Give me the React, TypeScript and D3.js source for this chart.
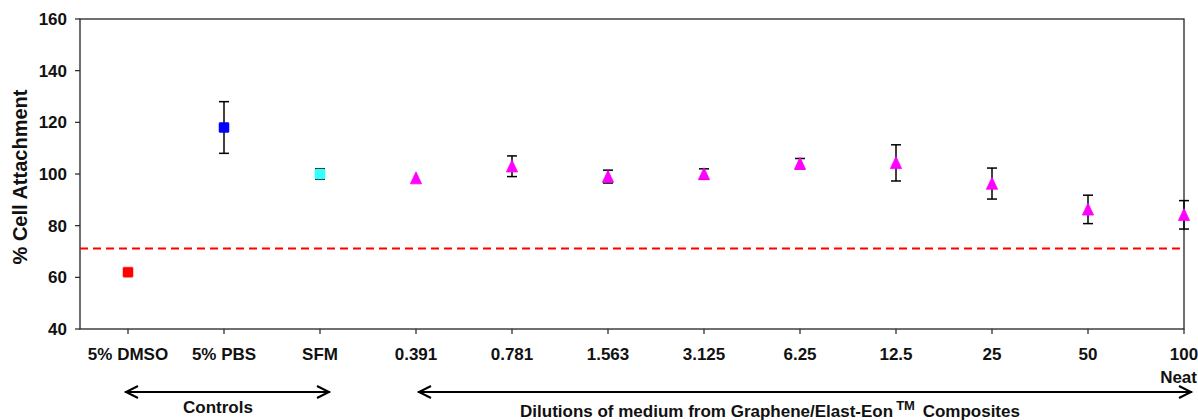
import React from 'react';
import * as d3 from 'd3';

// categories along the x axis
const categories = ['5% DMSO', '5% PBS', 'SFM', '0.391', '0.781', '1.563', '3.125', '6.25', '12.5', '25', '50', '100'];
// mean % cell attachment per category
const values = [62, 118, 100, 98.4, 103, 99, 100, 104, 104.3, 96.3, 86.3, 84.2];
// error bar half-width
const errors = [0, 10, 2, 0, 4, 2.5, 2, 2, 7, 6, 5.5, 5.5];
// marker kinds / colours
const markers = ['square', 'square', 'square', 'tri', 'tri', 'tri', 'tri', 'tri', 'tri', 'tri', 'tri', 'tri'];
const colors = ['#ff0000', '#0000ff', '#33ffff', '#ff00ff', '#ff00ff', '#ff00ff', '#ff00ff', '#ff00ff', '#ff00ff', '#ff00ff', '#ff00ff', '#ff00ff'];
const yTicks = [40, 60, 80, 100, 120, 140, 160];
const threshold = 71.2;

const W = 1198, H = 420;
const plot = { left: 80, right: 1184, top: 19, bottom: 329 };
const font = '"Liberation Sans", Arial, sans-serif';
const fs = 17;

export default function App() {
  const step = (plot.right - plot.left) / (categories.length - 0.5);
  const x = d3.scalePoint<string>().domain(categories).range([plot.left + step / 2, plot.right]);
  const y = d3.scaleLinear().domain([40, 160]).range([plot.bottom, plot.top]);

  const controls = categories.slice(0, 3);
  const dilutions = categories.slice(3);
  const arrowY = 392;

  const arrow = (x1: number, x2: number) => (
    <g stroke="#000" strokeWidth={2} fill="none">
      <line x1={x1} x2={x2} y1={arrowY} y2={arrowY} />
      <path d={`M${x1 + 13},${arrowY - 6}L${x1 + 1},${arrowY}L${x1 + 13},${arrowY + 6}`} />
      <path d={`M${x2 - 13},${arrowY - 6}L${x2 - 1},${arrowY}L${x2 - 13},${arrowY + 6}`} />
    </g>
  );

  return (
    <svg width={W} height={H} style={{ position: 'absolute', left: 0, top: 0, background: '#fff' }}
      fontFamily={font} fontWeight="bold">
      {/* frame */}
      <rect x={plot.left} y={plot.top} width={plot.right - plot.left} height={plot.bottom - plot.top}
        fill="none" stroke="#222" strokeWidth={1.3} />

      {/* y axis */}
      {yTicks.map(t => (
        <g key={t}>
          <line x1={plot.left - 5} x2={plot.left} y1={y(t)} y2={y(t)} stroke="#222" strokeWidth={1.2} />
          <text x={plot.left - 13} y={y(t)} dy="0.36em" textAnchor="end" fontSize={fs} fill="#111">{t}</text>
        </g>
      ))}
      <text transform={`translate(27,${(plot.top + plot.bottom) / 2 + 3}) rotate(-90)`} textAnchor="middle"
        fontSize={20} fill="#111">% Cell Attachment</text>

      {/* x axis */}
      {categories.map(c => (
        <g key={c}>
          <line x1={x(c)!} x2={x(c)!} y1={plot.bottom} y2={plot.bottom + 5} stroke="#222" strokeWidth={1.2} />
          <text x={x(c)!} y={360} textAnchor="middle" fontSize={fs} fill="#111">{c}</text>
        </g>
      ))}
      <text x={W - 1} y={383} textAnchor="end" fontSize={fs} fill="#111">Neat</text>

      {/* threshold */}
      <line x1={plot.left} x2={plot.right} y1={y(threshold)} y2={y(threshold)}
        stroke="#ff0000" strokeWidth={2} strokeDasharray="8,5" />

      {/* error bars */}
      {categories.map((c, i) => errors[i] > 0 && (
        <g key={'e' + c} stroke="#000" strokeWidth={1.5}>
          <line x1={x(c)!} x2={x(c)!} y1={y(values[i] + errors[i])} y2={y(values[i] - errors[i])} />
          <line x1={x(c)! - 5} x2={x(c)! + 5} y1={y(values[i] + errors[i])} y2={y(values[i] + errors[i])} />
          <line x1={x(c)! - 5} x2={x(c)! + 5} y1={y(values[i] - errors[i])} y2={y(values[i] - errors[i])} />
        </g>
      ))}

      {/* markers */}
      {categories.map((c, i) => markers[i] === 'square'
        ? <rect key={'m' + c} x={x(c)! - 5} y={y(values[i]) - 5} width={10} height={10} rx={1}
            fill={colors[i]} stroke={colors[i]} strokeWidth={0.5} />
        : <path key={'m' + c} transform={`translate(${x(c)},${y(values[i])})`}
            d="M0,-6.3L5.6,5.7L-5.6,5.7Z" fill={colors[i]} stroke={colors[i]} strokeWidth={0.8} strokeLinejoin="round" />
      )}

      {/* group annotations */}
      {arrow(x(controls[0])! - 3, x(controls[controls.length - 1])! + 10)}
      <text x={218} y={413} textAnchor="middle" fontSize={fs} fill="#111">Controls</text>
      {arrow(x(dilutions[0])! + 2, W - 6)}
      <text x={770} y={417} textAnchor="middle" fontSize={fs} fill="#111">
        Dilutions of medium from Graphene/Elast-Eon
        <tspan dx={3} dy={-7} fontSize={13}>TM</tspan>
        <tspan dx={3} dy={7}> Composites</tspan>
      </text>
    </svg>
  );
}
